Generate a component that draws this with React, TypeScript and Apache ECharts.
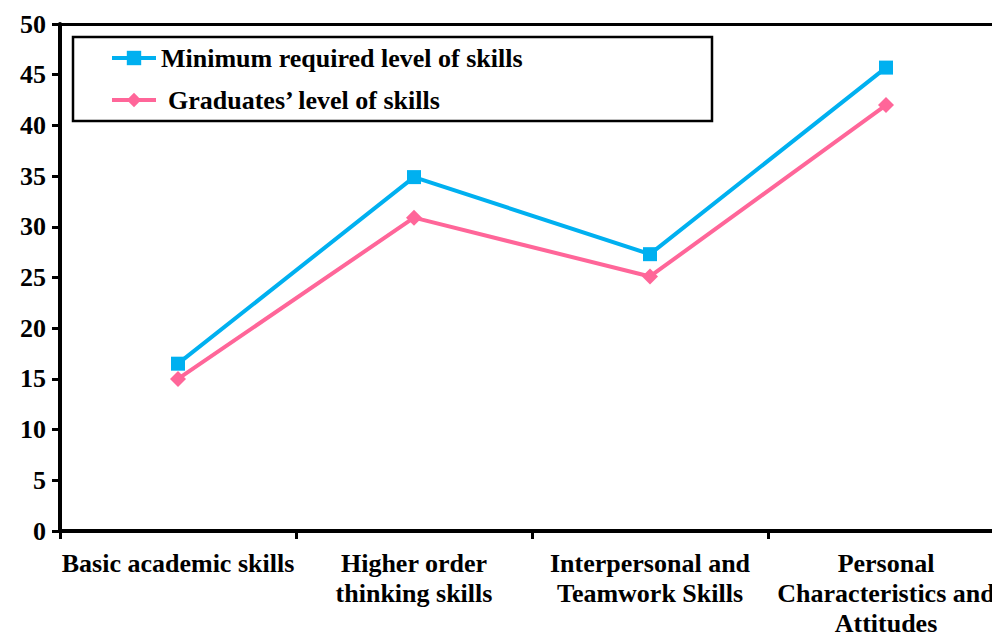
import React, { useEffect, useRef } from "react";
import * as echarts from "echarts";

const categories = [
  "Basic academic skills",
  "Higher order\nthinking skills",
  "Interpersonal and\nTeamwork Skills",
  "Personal\nCharacteristics and\nAttitudes",
];
const minimumRequired = [16.5, 34.9, 27.3, 45.7];
const graduatesLevel = [15.0, 30.9, 25.1, 42.0];
const seriesNames = ["Minimum required level of skills", "Graduates’ level of skills"];

const FONT = "'Liberation Serif', 'Times New Roman', serif";

export default function App() {
  const ref = useRef<HTMLDivElement>(null);
  useEffect(() => {
    if (!ref.current) return;
    const chart = echarts.init(ref.current, undefined, { renderer: "svg" });
    chart.setOption({
      animation: false,
      backgroundColor: "#ffffff",
      grid: {
        left: 60,
        top: 24,
        right: -12,
        bottom: 101,
        containLabel: false,
        outerBoundsMode: "none",
      },
      graphic: [
        {
          type: "rect",
          shape: { x: 73, y: 37, width: 639, height: 84 },
          style: { fill: "#ffffff", stroke: "#000000", lineWidth: 2.5 },
          z: 5,
        },
      ],
      legend: {
        orient: "vertical",
        left: 110,
        top: 43,
        padding: 0,
        itemWidth: 44,
        itemHeight: 18,
        itemGap: 12,
        z: 10,
        data: seriesNames,
        lineStyle: { width: 4 },
        formatter: (name: string) =>
          name === seriesNames[1] ? "{p|" + name + "}" : name,
        textStyle: {
          fontFamily: FONT,
          fontWeight: "bold",
          fontSize: 26,
          lineHeight: 30,
          color: "#000000",
          rich: {
            p: {
              fontFamily: FONT,
              fontWeight: "bold",
              fontSize: 26,
              lineHeight: 30,
              color: "#000000",
              padding: [0, 0, 0, 7],
            },
          },
        },
      },
      xAxis: [
        {
          type: "category",
          data: categories,
          boundaryGap: true,
          axisLine: { show: true, lineStyle: { color: "#000000", width: 4 } },
          axisTick: { show: true, length: 8, lineStyle: { color: "#000000", width: 3 } },
          axisLabel: {
            interval: 0,
            margin: 17,
            fontFamily: FONT,
            fontWeight: "bold",
            fontSize: 26,
            lineHeight: 30,
            color: "#000000",
          },
          splitLine: { show: false },
        },
        {
          type: "category",
          data: categories,
          position: "top",
          axisLine: { show: true, lineStyle: { color: "#000000", width: 3 } },
          axisTick: { show: false },
          axisLabel: { show: false },
          splitLine: { show: false },
        },
      ],
      yAxis: {
        type: "value",
        min: 0,
        max: 50,
        interval: 5,
        axisLine: { show: true, lineStyle: { color: "#000000", width: 4 } },
        axisTick: { show: true, length: 8, lineStyle: { color: "#000000", width: 3 } },
        axisLabel: {
          margin: 14,
          fontFamily: FONT,
          fontWeight: "bold",
          fontSize: 26,
          color: "#000000",
        },
        splitLine: { show: false },
      },
      series: [
        {
          name: seriesNames[0],
          type: "line",
          data: minimumRequired,
          symbol: "rect",
          symbolSize: 14,
          lineStyle: { color: "#00B0F0", width: 4 },
          itemStyle: { color: "#00B0F0" },
          z: 3,
        },
        {
          name: seriesNames[1],
          type: "line",
          data: graduatesLevel,
          symbol: "diamond",
          symbolSize: 16,
          lineStyle: { color: "#FF6699", width: 4 },
          itemStyle: { color: "#FF6699" },
          z: 3,
        },
      ],
    });
    return () => chart.dispose();
  }, []);
  return (
    <div
      ref={ref}
      style={{ position: "fixed", left: 0, top: 0, width: 992, height: 632 }}
    />
  );
}
